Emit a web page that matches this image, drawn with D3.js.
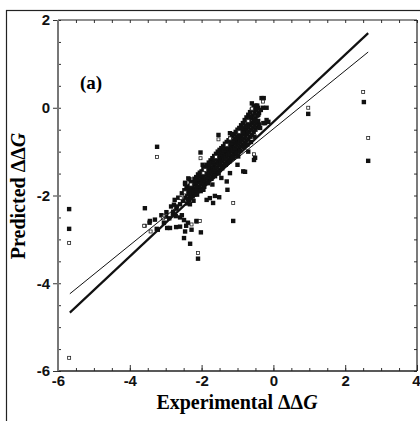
<!DOCTYPE html>
<html>
<head>
<meta charset="utf-8">
<script src="https://cdn.jsdelivr.net/npm/d3@7"></script>
<style>
  body { margin: 0; background: #fff; }
  svg { display: block; }
</style>
</head>
<body>
<svg width="420" height="421"></svg>
<script>
// tick values
var xTicks = [-6, -4, -2, 0, 2, 4];
var yTicks = [-6, -4, -2, 0, 2];

// fitted lines (experimental, predicted)
var fitX = [-5.67, 2.64];
var fitThick = [-4.67, 1.70];
var fitThin = [-4.24, 1.27];

// filled squares [experimental, predicted]
var filled = [
  [-5.69,-2.31],[-5.69,-2.76],
  [2.52,0.13],[2.64,-1.21],[0.97,-0.14],
  [-3.24,-0.89],[-3.58,-2.29],[-3.44,-2.58],[-1.12,-2.58],[-2.1,-3.44],
  // lower-left tail
  [-3.45,-2.62],[-3.3,-2.55],[-3.22,-2.78],[-3.12,-2.45],[-3.05,-2.62],[-2.98,-2.38],
  [-2.96,-2.74],[-2.9,-2.52],[-2.85,-2.25],[-2.8,-2.42],[-2.75,-2.1],[-2.7,-2.3],
  [-2.65,-2.05],[-2.6,-2.2],[-2.55,-1.95],[-2.52,-2.12],[-2.48,-1.88],[-2.45,-2.05],
  [-2.46,-1.71],[-2.42,-1.82],
  // lower group
  [-2.72,-2.47],[-2.6,-2.5],[-2.49,-2.56],[-2.43,-2.69],[-2.46,-2.82],[-2.49,-2.97],
  [-2.32,-3.1],[-2.28,-2.78],[-2.14,-2.58],[-2.02,-2.84],[-2.6,-2.71],[-2.71,-2.72],
  [-2.88,-2.74],[-2.38,-2.62],[-2.55,-2.45],[-2.14,-2.59],
  // main band
  [-2.40,-2.18],[-2.40,-1.97],[-2.40,-1.80],
  [-2.35,-2.10],[-2.35,-1.90],
  [-2.30,-2.05],[-2.30,-1.88],[-2.30,-1.70],
  [-2.25,-2.02],[-2.25,-1.80],
  [-2.20,-1.98],[-2.20,-1.84],[-2.20,-1.62],
  [-2.15,-1.95],[-2.15,-1.74],[-2.15,-1.58],
  [-2.10,-1.90],[-2.10,-1.70],[-2.10,-1.52],
  [-2.05,-1.88],[-2.05,-1.66],[-2.05,-1.48],
  [-2.00,-1.85],[-2.00,-1.62],[-2.00,-1.45],
  [-1.95,-1.80],[-1.95,-1.58],[-1.95,-1.38],
  [-1.90,-1.72],[-1.90,-1.52],[-1.90,-1.35],
  [-1.85,-1.70],[-1.85,-1.50],[-1.85,-1.30],
  [-1.80,-1.65],[-1.80,-1.44],[-1.80,-1.25],
  [-1.75,-1.62],[-1.75,-1.40],[-1.75,-1.20],
  [-1.70,-1.58],[-1.70,-1.36],[-1.70,-1.15],
  [-1.65,-1.52],[-1.65,-1.30],[-1.65,-1.10],
  [-1.60,-1.48],[-1.60,-1.27],[-1.60,-1.05],
  [-1.55,-1.45],[-1.55,-1.22],[-1.55,-1.00],
  [-1.50,-1.42],[-1.50,-1.18],[-1.50,-0.96],
  [-1.45,-1.35],[-1.45,-1.14],[-1.45,-0.92],
  [-1.40,-1.32],[-1.40,-1.10],[-1.40,-0.88],
  [-1.35,-1.28],[-1.35,-1.05],[-1.35,-0.82],
  [-1.30,-1.22],[-1.30,-1.00],[-1.30,-0.78],
  [-1.25,-1.18],[-1.25,-0.96],[-1.25,-0.74],
  [-1.20,-1.15],[-1.20,-0.92],[-1.20,-0.70],
  [-1.15,-1.10],[-1.15,-0.88],[-1.15,-0.64],
  [-1.10,-1.05],[-1.10,-0.82],[-1.10,-0.60],
  [-1.05,-1.00],[-1.05,-0.78],[-1.05,-0.55],
  [-1.00,-0.96],[-1.00,-0.74],[-1.00,-0.50],
  [-0.95,-0.92],[-0.95,-0.70],[-0.95,-0.46],
  [-0.90,-0.88],[-0.90,-0.64],[-0.90,-0.40],
  [-0.85,-0.84],[-0.85,-0.60],[-0.85,-0.35],
  [-0.80,-0.80],[-0.80,-0.55],[-0.80,-0.28],
  [-0.75,-0.75],[-0.75,-0.50],[-0.75,-0.22],
  [-0.70,-0.72],[-0.70,-0.45],[-0.70,-0.16],
  [-0.65,-0.66],[-0.65,-0.40],[-0.65,-0.10],
  [-0.60,-0.62],[-0.60,-0.35],[-0.60,-0.05],
  [-0.55,-0.55],[-0.55,-0.30],[-0.55,0.02],
  [-0.50,-0.50],[-0.50,-0.25],[-0.50,0.05],
  [-0.45,-0.45],[-0.45,-0.18],
  [-0.40,-0.38],[-0.40,-0.12],
  // band, in-between points
  [-2.375,-2.08],[-2.375,-1.86],
  [-2.325,-1.99],[-2.325,-1.78],[-2.325,-2.2],
  [-2.275,-1.95],[-2.275,-1.72],
  [-2.225,-1.92],[-2.225,-1.70],[-2.225,-2.12],
  [-2.175,-1.88],[-2.175,-1.66],
  [-2.125,-1.83],[-2.125,-1.62],[-2.125,-1.98],
  [-2.075,-1.80],[-2.075,-1.57],
  [-2.025,-1.74],[-2.025,-1.55],[-2.025,-1.90],
  [-1.975,-1.70],[-1.975,-1.48],
  [-1.925,-1.66],[-1.925,-1.44],[-1.925,-1.80],
  [-1.875,-1.61],[-1.875,-1.40],
  [-1.825,-1.58],[-1.825,-1.36],[-1.825,-1.72],
  [-1.775,-1.52],[-1.775,-1.30],
  [-1.725,-1.48],[-1.725,-1.26],[-1.725,-1.62],
  [-1.675,-1.44],[-1.675,-1.22],
  [-1.625,-1.40],[-1.625,-1.18],[-1.625,-1.56],
  [-1.575,-1.36],[-1.575,-1.13],
  [-1.525,-1.30],[-1.525,-1.10],[-1.525,-1.50],
  [-1.475,-1.26],[-1.475,-1.06],
  [-1.425,-1.22],[-1.425,-1.01],[-1.425,-1.38],
  [-1.375,-1.18],[-1.375,-0.97],
  [-1.325,-1.13],[-1.325,-0.92],[-1.325,-1.30],
  [-1.275,-1.08],[-1.275,-0.88],
  [-1.225,-1.05],[-1.225,-0.84],[-1.225,-1.22],
  [-1.175,-1.00],[-1.175,-0.80],
  [-1.125,-0.96],[-1.125,-0.75],[-1.125,-1.14],
  [-1.075,-0.92],[-1.075,-0.70],
  [-1.025,-0.86],[-1.025,-0.66],[-1.025,-1.04],
  [-0.975,-0.82],[-0.975,-0.62],
  [-0.925,-0.78],[-0.925,-0.56],[-0.925,-0.98],
  [-0.875,-0.74],[-0.875,-0.52],
  [-0.825,-0.70],[-0.825,-0.48],[-0.825,-0.90],
  [-0.775,-0.64],[-0.775,-0.42],
  [-0.725,-0.60],[-0.725,-0.36],[-0.725,-0.84],
  [-0.675,-0.55],[-0.675,-0.30],
  [-0.625,-0.50],[-0.625,-0.24],[-0.625,-0.78],
  [-0.575,-0.45],[-0.575,-0.18],
  [-0.525,-0.40],[-0.525,-0.12],[-0.525,-0.66],
  [-0.475,-0.35],[-0.475,-0.05],
  [-0.425,-0.30],[-0.425,0.0],
  // upper-left of band
  [-2.03,-1.02],[-1.97,-1.30],[-1.53,-0.62],[-1.21,-0.58],[-2.34,-1.63],[-2.46,-1.74],
  [-2.37,-1.61],[-2.77,-2.21],[-2.69,-2.25],[-2.79,-2.37],[-2.99,-2.48],[-3.25,-2.76],
  // below band
  [-1.28,-1.87],[-1.63,-2.01],[-1.51,-2.04],[-1.77,-2.06],[-1.95,-1.87],[-1.30,-1.68],
  [-0.84,-1.45],[-1.21,-1.49],[-0.98,-1.11],[-1.86,-2.1],[-1.68,-2.17],[-0.79,-1.46],
  [-0.54,-1.19],[-0.51,-1.14],[-1.0,-1.3],[-0.7,-1.0],[-1.45,-1.6],[-1.7,-1.75],
  // top of band
  [-0.33,0.22],[-0.27,0.22],[-0.29,0.0],[-0.47,-0.05],[-0.56,-0.05],[-0.19,0.0],
  [-0.42,-0.16],[-0.51,-0.28],[-0.74,-0.43],[-0.88,-0.47],[-0.84,-0.57],[-0.28,-0.35],
  [-0.19,-0.28],[-0.14,-0.32],[-0.23,-0.35],[-0.37,-0.46],[-0.6,0.1],[-0.45,0.05],
  [-0.65,-0.2],[-0.35,-0.05],[-0.77,-0.42]
];

// open squares
var open = [
  [-5.69,-3.08],[-5.69,-5.70],[2.5,0.36],[2.64,-0.69],[0.97,0.0],
  [-3.24,-1.12],[-3.58,-2.69],[-1.12,-2.17],[-2.1,-3.31],
  [-1.9,-1.42],[-1.6,-1.12],[-1.3,-0.85],[-0.95,-0.55],[-0.7,-0.3],[-2.3,-1.75],
  [-2.46,-1.93],[-2.58,-2.06],[-3.05,-2.48],[-3.08,-2.52],[-3.42,-2.82],[-2.03,-1.15],
  [-1.95,-1.49],[-1.53,-0.72],[-1.21,-0.70],[-0.29,0.14],[-0.54,-1.06],[-2.28,-2.66],
  [-2.05,-2.58],[-0.6,-0.02],[-3.6,-2.69]
];

var svg = d3.select("svg");

var x = d3.scaleLinear().domain([-6, 4]).range([58, 417]);
var y = d3.scaleLinear().domain([-6, 2]).range([371, 20]);

// outer frame
svg.append("rect")
    .attr("x", 6.5).attr("y", 10.5)
    .attr("width", 430).attr("height", 430)
    .attr("fill", "none").attr("stroke", "#222").attr("stroke-width", 1.2);

var minorX = d3.range(-6, 4.01, 0.5);
var minorY = d3.range(-6, 2.01, 0.5);

function style(g) {
  g.select(".domain").remove();
  g.selectAll("line").attr("stroke", "#333");
  g.selectAll("text")
    .attr("font-family", "Liberation Sans, Arial, sans-serif")
    .attr("font-weight", "bold")
    .attr("font-size", 15)
    .attr("fill", "#111");
}

// minor ticks
svg.append("g").attr("transform", "translate(0,371)")
    .call(d3.axisBottom(x).tickValues(minorX).tickSize(-3).tickFormat(""))
    .call(style);
svg.append("g").attr("transform", "translate(0,20)")
    .call(d3.axisTop(x).tickValues(minorX).tickSize(-3).tickFormat(""))
    .call(style);
svg.append("g").attr("transform", "translate(58,0)")
    .call(d3.axisLeft(y).tickValues(minorY).tickSize(-3).tickFormat(""))
    .call(style);
svg.append("g").attr("transform", "translate(417,0)")
    .call(d3.axisRight(y).tickValues(minorY).tickSize(-3).tickFormat(""))
    .call(style);

// major ticks + labels
var xAxisG = svg.append("g").attr("transform", "translate(0,371)")
    .call(d3.axisBottom(x).tickValues(xTicks).tickSize(-6).tickPadding(4)
      .tickFormat(function(d) { return String(d); }))
    .call(style);
// keep the last label inside the window
xAxisG.selectAll(".tick text")
    .filter(function(d) { return d === 4; })
    .attr("text-anchor", "end").attr("x", 3);

svg.append("g").attr("transform", "translate(58,0)")
    .call(d3.axisLeft(y).tickValues(yTicks).tickSize(5).tickPadding(3)
      .tickFormat(function(d) { return String(d); }))
    .call(style);

// plot box
svg.append("line").attr("x1", 58).attr("x2", 417).attr("y1", 20).attr("y2", 20)
    .attr("stroke", "#222").attr("stroke-width", 1.2);
svg.append("line").attr("x1", 58).attr("x2", 417).attr("y1", 371).attr("y2", 371)
    .attr("stroke", "#222").attr("stroke-width", 1.5);
svg.append("line").attr("x1", 58).attr("x2", 58).attr("y1", 20).attr("y2", 371)
    .attr("stroke", "#777").attr("stroke-width", 2);
svg.append("line").attr("x1", 417).attr("x2", 417).attr("y1", 20).attr("y2", 371)
    .attr("stroke", "#222").attr("stroke-width", 1.2);

// points
svg.append("g").selectAll("rect")
  .data(filled)
  .enter().append("rect")
    .attr("x", function(d) { return x(d[0]) - 2.2; })
    .attr("y", function(d) { return y(d[1]) - 2.2; })
    .attr("width", 4.4).attr("height", 4.4)
    .attr("fill", "#111");

svg.append("g").selectAll("rect")
  .data(open)
  .enter().append("rect")
    .attr("x", function(d) { return x(d[0]) - 1.5; })
    .attr("y", function(d) { return y(d[1]) - 1.5; })
    .attr("width", 3).attr("height", 3)
    .attr("fill", "#fff").attr("stroke", "#222").attr("stroke-width", 0.8);

// fit lines
var line = d3.line()
    .x(function(d) { return x(d[0]); })
    .y(function(d) { return y(d[1]); });

svg.append("path")
    .datum(d3.zip(fitX, fitThick))
    .attr("d", line)
    .attr("fill", "none").attr("stroke", "#111").attr("stroke-width", 2.2);
svg.append("path")
    .datum(d3.zip(fitX, fitThin))
    .attr("d", line)
    .attr("fill", "none").attr("stroke", "#111").attr("stroke-width", 1);

// labels
var serif = "Liberation Serif, Times New Roman, serif";

svg.append("text")
    .attr("x", 80).attr("y", 89)
    .attr("font-family", serif).attr("font-weight", "bold").attr("font-size", 19)
    .text("(a)");

var xl = svg.append("text")
    .attr("x", 237).attr("y", 409)
    .attr("text-anchor", "middle")
    .attr("font-family", serif).attr("font-weight", "bold").attr("font-size", 20);
xl.append("tspan").text("Experimental ΔΔ");
xl.append("tspan").attr("font-style", "italic").text("G");

var yl = svg.append("text")
    .attr("transform", "translate(25,196) rotate(-90)")
    .attr("text-anchor", "middle")
    .attr("font-family", serif).attr("font-weight", "bold").attr("font-size", 20);
yl.append("tspan").text("Predicted ΔΔ");
yl.append("tspan").attr("font-style", "italic").text("G");
</script>
</body>
</html>
